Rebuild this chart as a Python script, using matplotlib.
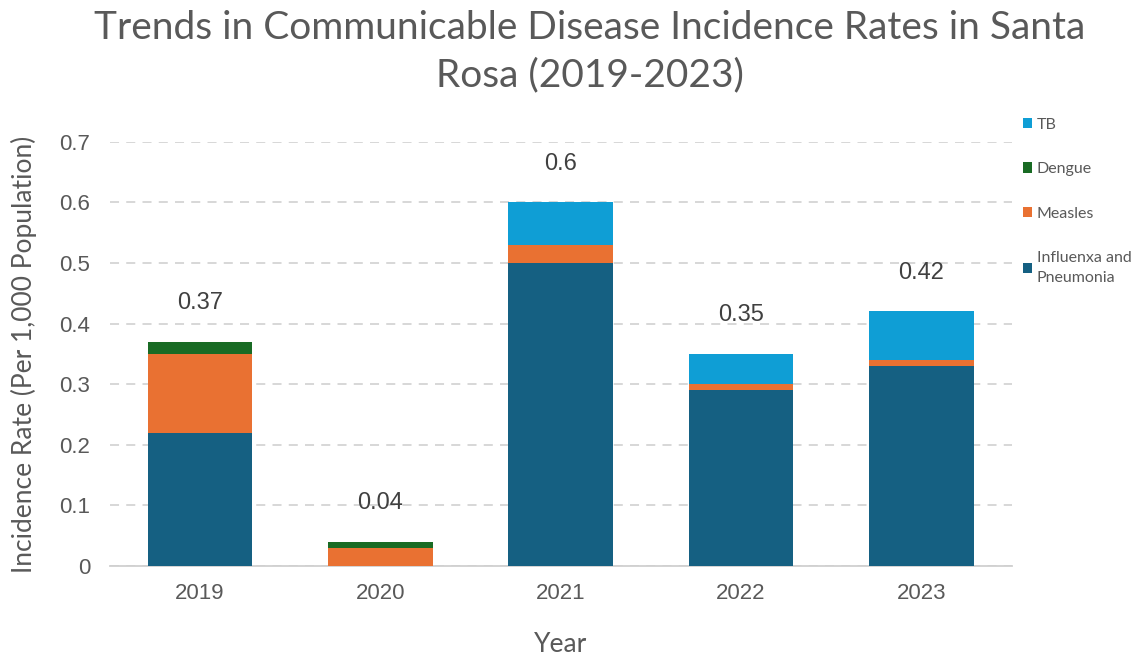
import numpy as np
import matplotlib
matplotlib.use('Agg')
import matplotlib.pyplot as plt

# data
years     = ['2019', '2020', '2021', '2022', '2023']
influenza = [0.22, 0.00, 0.50, 0.29, 0.33]
measles   = [0.13, 0.03, 0.03, 0.01, 0.01]
dengue    = [0.02, 0.01, 0.00, 0.00, 0.00]
tb        = [0.00, 0.00, 0.07, 0.05, 0.08]
totals    = [0.37, 0.04, 0.6, 0.35, 0.42]
total_lbl = ['0.37', '0.04', '0.6', '0.35', '0.42']
yticks    = [0, 0.1, 0.2, 0.3, 0.4, 0.5, 0.6, 0.7]
ytick_lbl = ['0', '0.1', '0.2', '0.3', '0.4', '0.5', '0.6', '0.7']

grey = '#595959'
plt.rcParams['font.family'] = ['Liberation Sans', 'DejaVu Sans']

fig = plt.figure(figsize=(11.43, 6.59), dpi=100)
ax = fig.add_axes([0.096, 0.141, 0.789, 0.644])

x = np.arange(len(years))
w = 0.58
b1 = np.array(influenza)
b2 = b1 + np.array(measles)
b3 = b2 + np.array(dengue)
ax.bar(x, influenza, w, color='#156082', label='Influenxa and\nPneumonia', zorder=3)
ax.bar(x, measles, w, bottom=b1, color='#E97132', label='Measles', zorder=3)
ax.bar(x, dengue, w, bottom=b2, color='#196B24', label='Dengue', zorder=3)
ax.bar(x, tb, w, bottom=b3, color='#0F9ED5', label='TB', zorder=3)

for i in range(len(years)):
    ax.text(x[i], totals[i] + 0.064, total_lbl[i], ha='center', va='center',
            fontsize=17, color='#404040', zorder=4)

ax.set_ylim(0, 0.7)
ax.set_xlim(-0.5, len(years) - 0.5)
ax.set_yticks(yticks)
ax.set_yticklabels(ytick_lbl)
ax.set_xticks(x)
ax.set_xticklabels(years)
ax.tick_params(axis='both', length=0, labelsize=16, labelcolor=grey)
ax.tick_params(axis='y', pad=14)
ax.tick_params(axis='x', pad=12)
ax.yaxis.grid(True, linestyle=(0, (5, 4)), color='#d4d4d4', linewidth=1.3, zorder=0)
for s in ['top', 'right', 'left']:
    ax.spines[s].set_visible(False)
ax.spines['bottom'].set_color('#d0d0d0')
ax.spines['bottom'].set_linewidth(1.3)

ax.set_xlabel('Year', fontsize=19, color=grey, labelpad=20, family='Lato')
ax.set_ylabel('Incidence Rate (Per 1,000 Population)', fontsize=19, color=grey,
              labelpad=16, family='Lato')
fig.suptitle('Trends in Communicable Disease Incidence Rates in Santa\nRosa (2019-2023)',
             x=0.516, y=0.985, fontsize=28, color=grey, family='Lato', linespacing=1.4)

h, l = ax.get_legend_handles_labels()
leg = fig.legend(h[::-1], l[::-1], loc='upper left', bbox_to_anchor=(0.882, 0.843),
                 frameon=False, handlelength=0.6, labelcolor=grey,
                 handleheight=0.6, handletextpad=0.3, labelspacing=1.9,
                 prop={'family': 'Lato', 'size': 11.5})
for t in leg.get_texts():
    t.set_linespacing(1.6)

fig.savefig('out.png', dpi=100)
